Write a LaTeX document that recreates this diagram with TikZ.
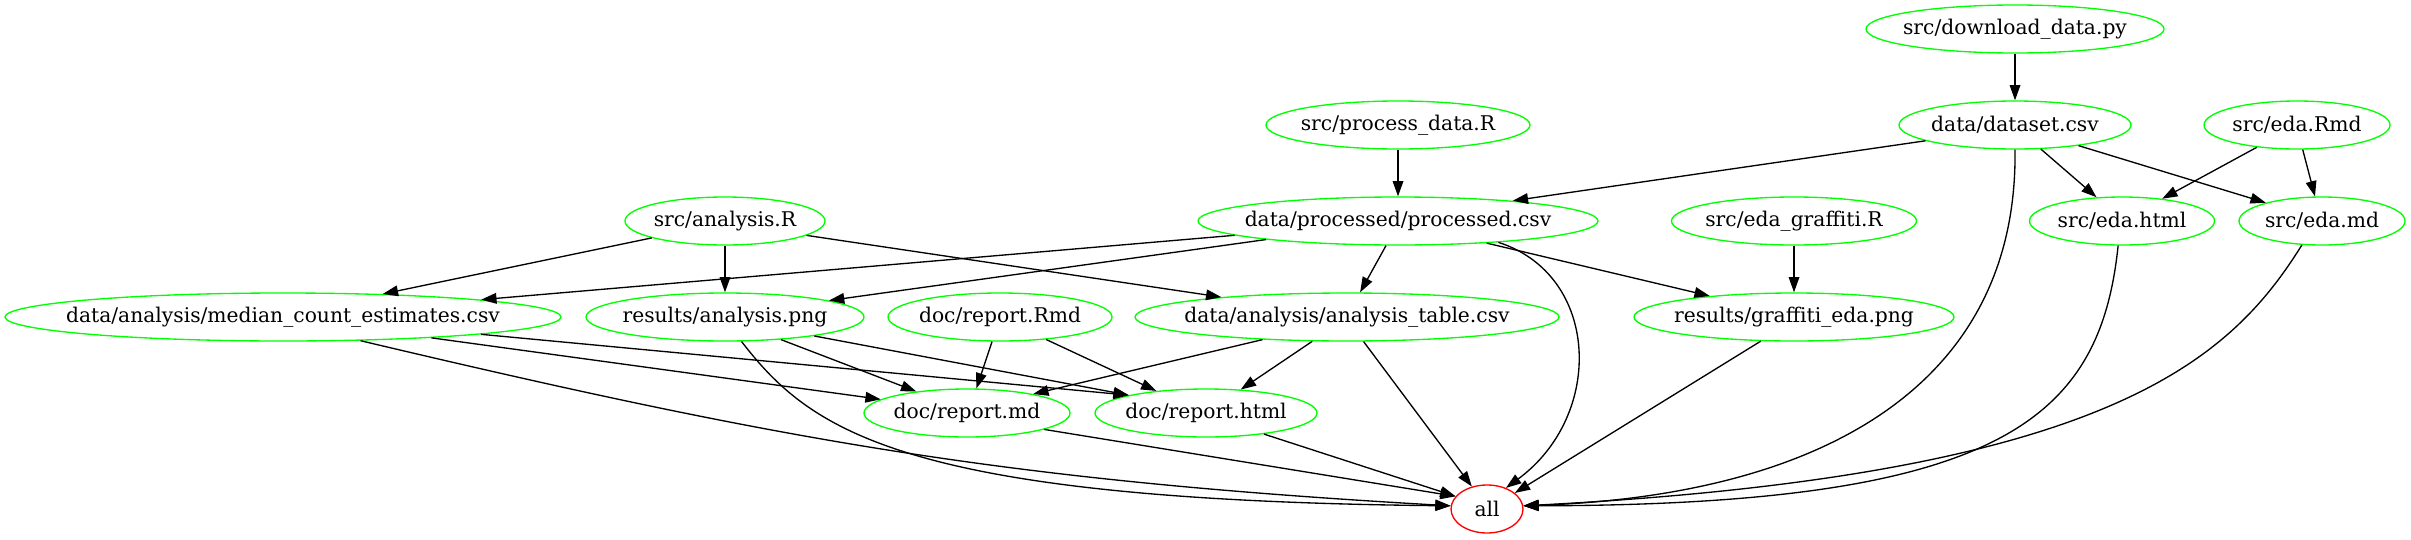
\documentclass[tikz,border=0pt]{standalone}
\usepackage{fontspec}
\setmainfont{DejaVu Serif}
\usepackage{tikz}
\usepackage{xcolor}
\usetikzlibrary{shapes.geometric,arrows.meta}
\definecolor{filegreen}{RGB}{0,255,0}
\definecolor{allred}{RGB}{255,0,0}
\newcommand{\fname}[1]{\makebox[0pt][c]{#1}}

\begin{document}
\begin{tikzpicture}[x=0.75pt,y=-0.75pt,
	file/.style={ellipse, draw=filegreen, line width=1pt, inner sep=0pt,
		minimum height=36pt, minimum width=#1, font=\fontsize{15.2}{17}\selectfont},
	goal/.style={file=54pt, draw=allred},
	dep/.style={line width=1pt, -{Triangle[length=11.5pt,width=8pt]}}]
	\useasboundingbox (0,0) rectangle (2411,539);
		\node[file=223.5pt] (dl) at (2015,29) {\fname{src/download\_data.py}};
		\node[file=174pt] (ds) at (2015,125) {\fname{data/dataset.csv}};
		\node[file=139.5pt] (edarmd) at (2297,125) {\fname{src/eda.Rmd}};
		\node[file=198pt] (procr) at (1398,125) {\fname{src/process\_data.R}};
		\node[file=300pt] (proc) at (1398,221) {\fname{data/processed/processed.csv}};
		\node[file=183.75pt] (edagr) at (1794,221) {\fname{src/eda\_graffiti.R}};
		\node[file=138.75pt] (edahtml) at (2122,221) {\fname{src/eda.html}};
		\node[file=124.5pt] (edamd) at (2322,221) {\fname{src/eda.md}};
		\node[file=150pt] (anr) at (725,221) {\fname{src/analysis.R}};
		\node[file=417pt] (median) at (283,317) {\fname{data/analysis/median\_count\_estimates.csv}};
		\node[file=208.5pt] (apng) at (725,317) {\fname{results/analysis.png}};
		\node[file=168pt] (rrmd) at (1000,317) {\fname{doc/report.Rmd}};
		\node[file=318pt] (atable) at (1347,317) {\fname{data/analysis/analysis\_table.csv}};
		\node[file=240pt] (gpng) at (1794,317) {\fname{results/graffiti\_eda.png}};
		\node[file=154.5pt] (rmd) at (967,413) {\fname{doc/report.md}};
		\node[file=166.5pt] (rhtml) at (1206,413) {\fname{doc/report.html}};
		\node[goal] (all) at (1487,509) {\fname{all}};
	\draw[dep] (dl.south) -- (ds.north);
	\draw[dep] (ds.190) -- (proc.10);
	\draw[dep] (ds.-43) -- (edahtml.137);
	\draw[dep] (ds.-18) -- (edamd.162);
	\draw[dep] (ds.south) .. controls (2018,380) and (1830,495) .. (all.5);
	\draw[dep] (edarmd.209) -- (edahtml.29);
	\draw[dep] (edarmd.-77) -- (edamd.106);
	\draw[dep] (procr.south) -- (proc.north);
	\draw[dep] (proc.185) -- (median.5);
	\draw[dep] (proc.188) -- (apng.9);
	\draw[dep] (proc.244) -- (atable.62);
	\draw[dep] (proc.-14) -- (gpng.166);
	\draw[dep] (proc.-12) .. controls (1600,275) and (1605,415) .. (all.48);
	\draw[dep] (edagr.south) -- (gpng.north);
	\draw[dep] (edahtml.-99) .. controls (2100,420) and (2000,505) .. (all.5);
	\draw[dep] (edamd.230) .. controls (2230,360) and (2110,475) .. (all.5);
	\draw[dep] (anr.193) -- (median.13);
	\draw[dep] (anr.south) -- (apng.north);
	\draw[dep] (anr.-10) -- (atable.171);
	\draw[dep] (median.-8) -- (rmd.171);
	\draw[dep] (median.-5) -- (rhtml.167);
	\draw[dep] (median.-17) .. controls (780,440) and (1000,480) .. (all.175);
	\draw[dep] (apng.-22) -- (rmd.157);
	\draw[dep] (apng.-12) -- (rhtml.167);
	\draw[dep] (apng.-56) .. controls (810,430) and (900,500) .. (all.175);
	\draw[dep] (rrmd.252) -- (rmd.69);
	\draw[dep] (rrmd.-26) -- (rhtml.156);
	\draw[dep] (atable.195) -- (rmd.16);
	\draw[dep] (atable.215) -- (rhtml.34);
	\draw[dep] (atable.-56) -- (all.124);
	\draw[dep] (gpng.216) -- (all.30);
	\draw[dep] (rmd.-12) -- (all.158);
	\draw[dep] (rhtml.-20) -- (all.158);
\end{tikzpicture}
\end{document}
